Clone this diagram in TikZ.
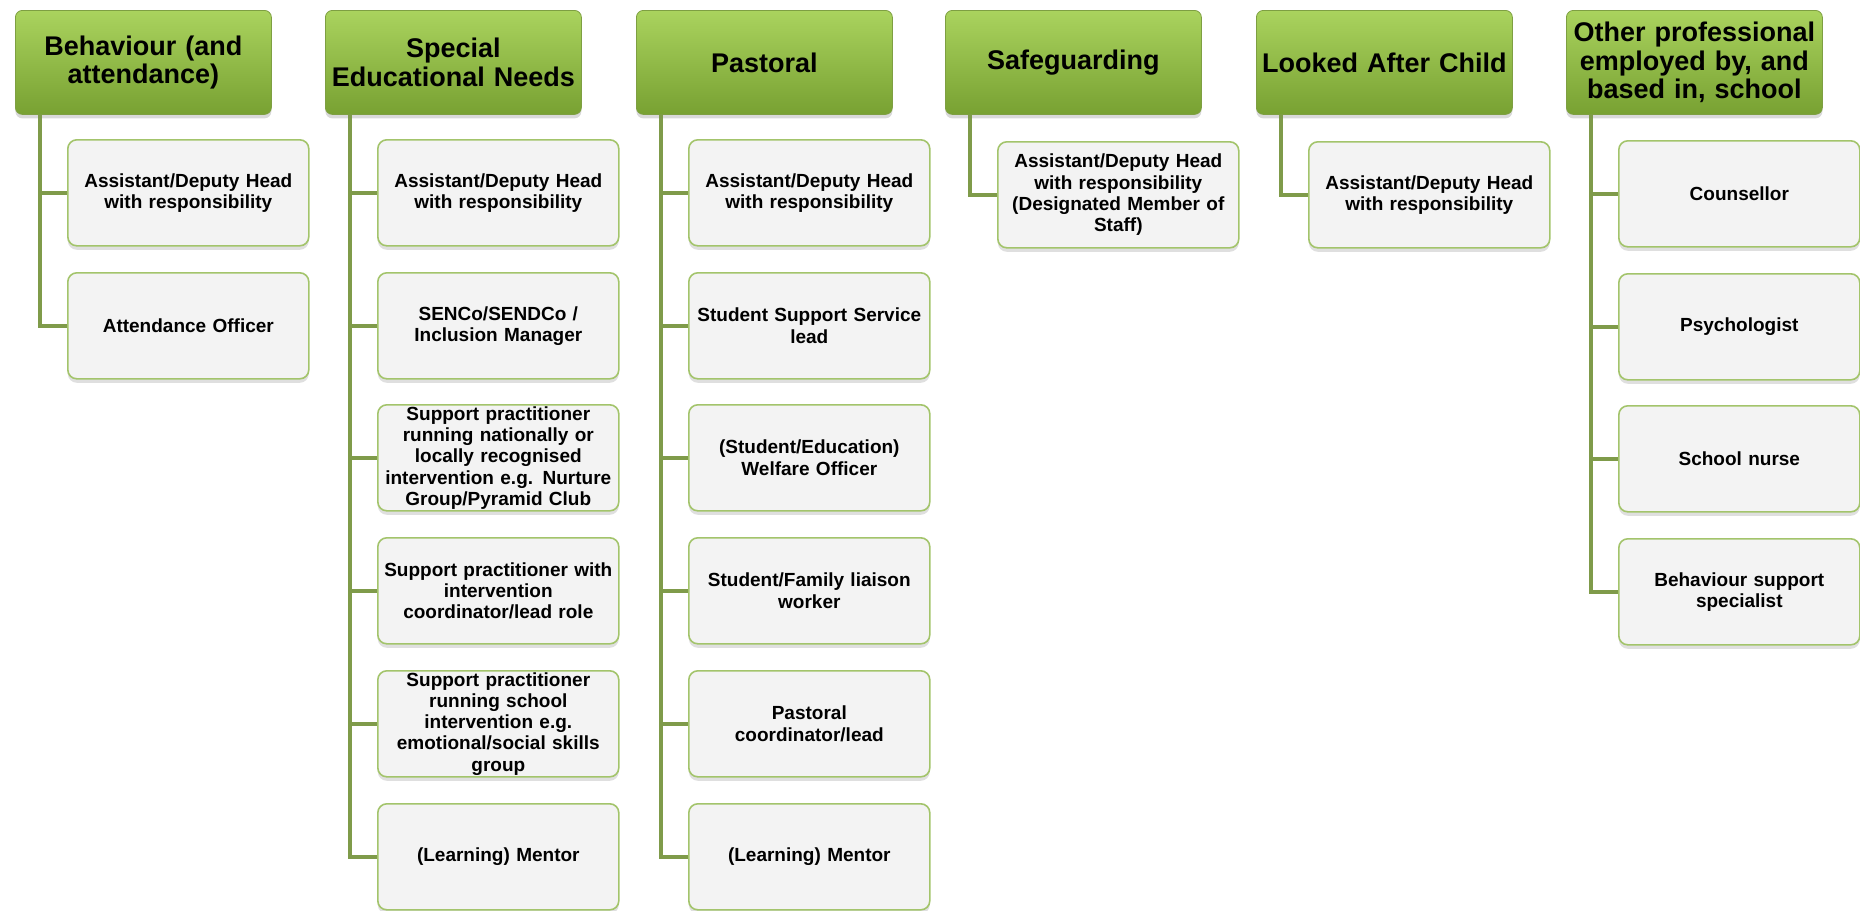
\documentclass[tikz,border=0pt]{standalone}
\usepackage{fontspec}
\setmainfont{Liberation Sans}
\usetikzlibrary{shadows}
\definecolor{VertClair}{HTML}{AAD35E}
\definecolor{VertFonce}{HTML}{78A132}
\definecolor{VertBord}{HTML}{7E9F42}
\definecolor{VertLien}{HTML}{7F9B4A}
\definecolor{VertCadre}{HTML}{A3C46B}
\definecolor{GrisFond}{HTML}{F3F3F3}
\tikzstyle{titre}=[anchor=north west, rounded corners=7pt, draw=VertBord, line width=0.8pt,
  top color=VertClair, bottom color=VertFonce, minimum width=256pt, minimum height=104pt,
  text width=250pt, align=center, inner sep=0pt,
  font=\fontsize{27}{28.5}\selectfont\bfseries,
  drop shadow={shadow xshift=0pt, shadow yshift=-4pt, opacity=0.3}]
\tikzstyle{poste}=[anchor=north west, rounded corners=9pt, draw=VertCadre, line width=1.6pt,
  fill=GrisFond, minimum width=241pt, minimum height=106pt,
  text width=236pt, align=center, inner sep=0pt,
  font=\fontsize{19}{21.3}\selectfont\bfseries,
  drop shadow={shadow xshift=0pt, shadow yshift=-4pt, opacity=0.25}]
\tikzstyle{lien}=[line width=3.5pt, color=VertLien]

\begin{document}
\begin{tikzpicture}[x=1pt,y=-1pt]
 \useasboundingbox (0,0) rectangle (1860,910);
 % en-tetes
 \node[titre] (comp) at (15,10) {Behaviour (and\\attendance)};
 \node[titre] (sen) at (325,10) {Special\\Educational Needs};
 \node[titre] (past) at (636,10) {Pastoral};
 \node[titre] (safe) at (945,10) {Safeguarding};
 \node[titre] (lac) at (1256,10) {Looked After Child};
 \node[titre] (autre) at (1566,10) {Other professional\\employed by, and\\based in, school};
 % Behaviour
 \node[poste] (comp1) at (67,139) {Assistant/Deputy Head\\with responsibility};
 \node[poste] (comp2) at (67,272) {Attendance Officer};
 % SEN
 \node[poste] (sen1) at (377,139) {Assistant/Deputy Head\\with responsibility};
 \node[poste] (sen2) at (377,272) {SENCo/SENDCo /\\Inclusion Manager};
 \node[poste] (sen3) at (377,404) {Support practitioner\\running nationally or\\locally recognised\\intervention e.g. Nurture\\Group/Pyramid Club};
 \node[poste] (sen4) at (377,537) {Support practitioner with\\intervention\\coordinator/lead role};
 \node[poste] (sen5) at (377,670) {Support practitioner\\running school\\intervention e.g.\\emotional/social skills\\group};
 \node[poste] (sen6) at (377,803) {(Learning) Mentor};
 % Pastoral
 \node[poste] (past1) at (688,139) {Assistant/Deputy Head\\with responsibility};
 \node[poste] (past2) at (688,272) {Student Support Service\\lead};
 \node[poste] (past3) at (688,404) {(Student/Education)\\Welfare Officer};
 \node[poste] (past4) at (688,537) {Student/Family liaison\\worker};
 \node[poste] (past5) at (688,670) {Pastoral\\coordinator/lead};
 \node[poste] (past6) at (688,803) {(Learning) Mentor};
 % Safeguarding, LAC
 \node[poste] (safe1) at (997,141) {Assistant/Deputy Head\\with responsibility\\(Designated Member of\\Staff)};
 \node[poste] (lac1) at (1308,141) {Assistant/Deputy Head\\with responsibility};
 % autres
 \node[poste] (autre1) at (1618,140) {Counsellor};
 \node[poste] (autre2) at (1618,273) {Psychologist};
 \node[poste] (autre3) at (1618,405) {School nurse};
 \node[poste] (autre4) at (1618,538) {Behaviour support\\specialist};
 % liens
 \foreach \b in {comp1,comp2}
   \draw[lien] ([xshift=25pt]comp.south west) |- (\b.west);
 \foreach \b in {sen1,sen2,sen3,sen4,sen5,sen6}
   \draw[lien] ([xshift=25pt]sen.south west) |- (\b.west);
 \foreach \b in {past1,past2,past3,past4,past5,past6}
   \draw[lien] ([xshift=25pt]past.south west) |- (\b.west);
 \draw[lien] ([xshift=25pt]safe.south west) |- (safe1.west);
 \draw[lien] ([xshift=25pt]lac.south west) |- (lac1.west);
 \foreach \b in {autre1,autre2,autre3,autre4}
   \draw[lien] ([xshift=25pt]autre.south west) |- (\b.west);
\end{tikzpicture}
\end{document}
